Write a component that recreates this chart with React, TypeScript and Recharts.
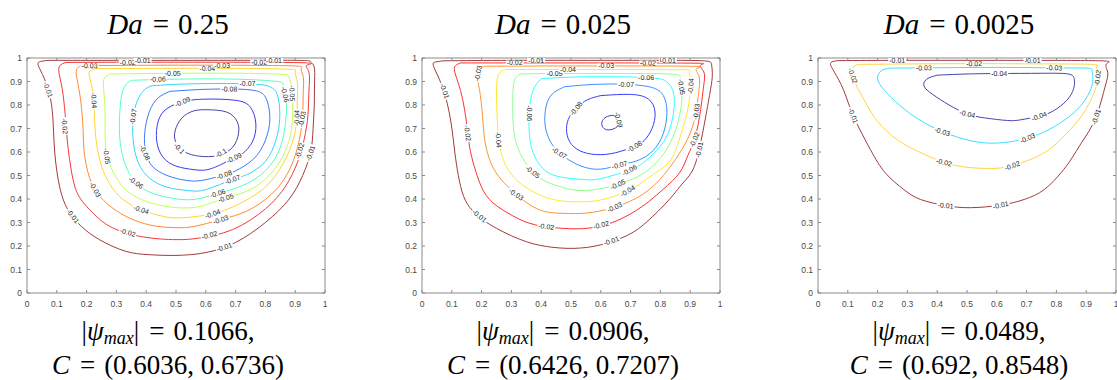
import React from 'react';
import { ComposedChart, Line, Scatter, XAxis, YAxis, ReferenceArea } from 'recharts';

type Pt = [number, number];
type Lab = [string, number, number];

// plot box size in px, same for all three panels
const PW = 298;
const PH = 235;
const AXIS = '#8a8a8a';
const TICK = '#4a4a4a';
const SANS = "'Liberation Sans', Arial, Helvetica, sans-serif";
const SERIF = "'Liberation Serif', 'DejaVu Serif', serif";

const axisTicks = [0, 0.1, 0.2, 0.3, 0.4, 0.5, 0.6, 0.7, 0.8, 0.9, 1];

const daValues = ['0.25', '0.025', '0.0025'];
const psiMax = ['0.1066', '0.0906', '0.0489'];
const centres = ['(0.6036, 0.6736)', '(0.6426, 0.7207)', '(0.692, 0.8548)'];
const panelLeft = [27, 422, 818];

// ---- Da = 0.25 ----
const levels1 = ['-0.01', '-0.02', '-0.03', '-0.04', '-0.05', '-0.06', '-0.07', '-0.08', '-0.09', '-0.1'];
const colors1 = ['#a33a3a', '#f03a3a', '#ff8a30', '#ffd530', '#bfff55', '#55ffc0', '#30d5ff', '#3a7bff', '#3a3af0', '#4545b0'];
const c1_01: Pt[] = [[0.07, 0.99], [0.3, 0.99], [0.6, 0.99], [0.9, 0.99], [0.95, 0.985], [0.963, 0.965], [0.965, 0.9], [0.964, 0.8], [0.96, 0.7], [0.952, 0.6], [0.925, 0.5], [0.88, 0.4], [0.8, 0.3], [0.7, 0.215], [0.6, 0.172], [0.5, 0.16], [0.41, 0.163], [0.33, 0.178], [0.243, 0.227], [0.182, 0.284], [0.137, 0.355], [0.109, 0.455], [0.093, 0.6], [0.087, 0.74], [0.075, 0.85], [0.052, 0.93], [0.037, 0.972], [0.045, 0.985], [0.07, 0.99]];
const c1_02: Pt[] = [[0.13, 0.981], [0.3, 0.982], [0.6, 0.982], [0.92, 0.98], [0.94, 0.97], [0.946, 0.94], [0.946, 0.86], [0.943, 0.76], [0.93, 0.653], [0.907, 0.554], [0.868, 0.455], [0.8, 0.358], [0.69, 0.27], [0.578, 0.234], [0.5, 0.227], [0.388, 0.239], [0.288, 0.277], [0.232, 0.327], [0.19, 0.383], [0.16, 0.455], [0.143, 0.568], [0.135, 0.653], [0.128, 0.76], [0.118, 0.87], [0.107, 0.94], [0.112, 0.97], [0.13, 0.981]];
const c1_03: Pt[] = [[0.18, 0.967], [0.4, 0.969], [0.7, 0.969], [0.9, 0.966], [0.92, 0.955], [0.927, 0.92], [0.927, 0.85], [0.924, 0.74], [0.908, 0.62], [0.875, 0.51], [0.82, 0.42], [0.74, 0.35], [0.65, 0.312], [0.56, 0.283], [0.5, 0.278], [0.43, 0.285], [0.36, 0.31], [0.3, 0.35], [0.245, 0.41], [0.21, 0.49], [0.192, 0.6], [0.188, 0.7], [0.18, 0.82], [0.168, 0.91], [0.166, 0.95], [0.18, 0.967]];
const c1_04: Pt[] = [[0.23, 0.955], [0.45, 0.956], [0.7, 0.956], [0.88, 0.952], [0.9, 0.94], [0.907, 0.9], [0.907, 0.82], [0.904, 0.72], [0.885, 0.62], [0.85, 0.53], [0.79, 0.44], [0.7, 0.372], [0.623, 0.337], [0.52, 0.32], [0.45, 0.328], [0.383, 0.355], [0.32, 0.4], [0.28, 0.46], [0.25, 0.54], [0.232, 0.65], [0.226, 0.76], [0.222, 0.85], [0.21, 0.92], [0.212, 0.945], [0.23, 0.955]];
const c1_05: Pt[] = [[0.28, 0.932], [0.5, 0.935], [0.72, 0.935], [0.86, 0.93], [0.88, 0.915], [0.89, 0.87], [0.892, 0.8], [0.888, 0.7], [0.865, 0.6], [0.82, 0.51], [0.75, 0.44], [0.667, 0.405], [0.6, 0.375], [0.54, 0.362], [0.47, 0.368], [0.4, 0.39], [0.34, 0.43], [0.3, 0.49], [0.272, 0.57], [0.262, 0.67], [0.262, 0.78], [0.257, 0.87], [0.26, 0.915], [0.28, 0.932]];
const c1_06: Pt[] = [[0.35, 0.905], [0.5, 0.91], [0.7, 0.91], [0.84, 0.9], [0.86, 0.88], [0.87, 0.82], [0.868, 0.73], [0.85, 0.62], [0.8, 0.52], [0.72, 0.455], [0.64, 0.424], [0.56, 0.398], [0.48, 0.405], [0.41, 0.43], [0.366, 0.47], [0.335, 0.53], [0.315, 0.62], [0.31, 0.72], [0.315, 0.82], [0.328, 0.88], [0.35, 0.905]];
const c1_07: Pt[] = [[0.42, 0.882], [0.55, 0.89], [0.74, 0.89], [0.82, 0.875], [0.843, 0.83], [0.848, 0.74], [0.835, 0.65], [0.8, 0.56], [0.74, 0.505], [0.69, 0.483], [0.6, 0.44], [0.54, 0.436], [0.47, 0.45], [0.41, 0.49], [0.375, 0.55], [0.358, 0.63], [0.355, 0.72], [0.365, 0.8], [0.39, 0.86], [0.42, 0.882]];
const c1_08: Pt[] = [[0.48, 0.858], [0.58, 0.866], [0.68, 0.868], [0.77, 0.86], [0.805, 0.82], [0.815, 0.74], [0.8, 0.65], [0.76, 0.57], [0.7, 0.52], [0.662, 0.503], [0.6, 0.482], [0.54, 0.478], [0.47, 0.5], [0.42, 0.54], [0.398, 0.6], [0.395, 0.68], [0.41, 0.77], [0.44, 0.83], [0.48, 0.858]];
const c1_09: Pt[] = [[0.53, 0.818], [0.6, 0.825], [0.7, 0.82], [0.75, 0.79], [0.768, 0.72], [0.755, 0.64], [0.72, 0.59], [0.695, 0.575], [0.62, 0.53], [0.56, 0.525], [0.5, 0.54], [0.455, 0.58], [0.435, 0.65], [0.44, 0.73], [0.47, 0.785], [0.53, 0.818]];
const c1_10: Pt[] = [[0.6, 0.78], [0.67, 0.77], [0.705, 0.73], [0.71, 0.68], [0.69, 0.62], [0.64, 0.585], [0.58, 0.582], [0.53, 0.6], [0.5, 0.64], [0.497, 0.69], [0.52, 0.745], [0.56, 0.775], [0.6, 0.78]];
const labels1: Lab[] = [
  ['-0.02', 0.338, 0.982], ['-0.01', 0.388, 0.99], ['-0.03', 0.21, 0.967], ['-0.04', 0.605, 0.956],
  ['-0.03', 0.655, 0.969], ['-0.02', 0.779, 0.982], ['-0.01', 0.829, 0.99], ['-0.05', 0.489, 0.935],
  ['-0.06', 0.439, 0.91], ['-0.08', 0.679, 0.868], ['-0.07', 0.74, 0.89], ['-0.09', 0.522, 0.814],
  ['-0.04', 0.225, 0.82], ['-0.07', 0.356, 0.75], ['-0.01', 0.071, 0.865], ['-0.06', 0.866, 0.845],
  ['-0.05', 0.89, 0.85], ['-0.04', 0.905, 0.745], ['-0.03', 0.923, 0.74], ['-0.02', 0.127, 0.71],
  ['-0.05', 0.268, 0.582], ['-0.08', 0.396, 0.597], ['-0.1', 0.511, 0.615], ['-0.1', 0.651, 0.596],
  ['-0.09', 0.695, 0.575], ['-0.08', 0.662, 0.503], ['-0.07', 0.69, 0.483], ['-0.06', 0.64, 0.424],
  ['-0.05', 0.667, 0.405], ['-0.04', 0.623, 0.337], ['-0.03', 0.65, 0.312], ['-0.02', 0.612, 0.246],
  ['-0.01', 0.662, 0.195], ['-0.01', 0.154, 0.327], ['-0.03', 0.229, 0.44], ['-0.06', 0.366, 0.47],
  ['-0.04', 0.383, 0.355], ['-0.02', 0.338, 0.258], ['-0.02', 0.915, 0.605], ['-0.01', 0.951, 0.595],
];

// ---- Da = 0.025 ----
const levels2 = ['-0.01', '-0.02', '-0.03', '-0.04', '-0.05', '-0.06', '-0.07', '-0.08', '-0.09'];
const colors2 = ['#a33a3a', '#ff3030', '#ff9430', '#ffe830', '#90ff90', '#30ffff', '#3a90ff', '#3a3aff', '#4040b8'];
const c2_01: Pt[] = [[0.07, 0.988], [0.3, 0.99], [0.6, 0.99], [0.85, 0.99], [0.955, 0.987], [0.972, 0.97], [0.974, 0.92], [0.966, 0.85], [0.952, 0.75], [0.93, 0.61], [0.905, 0.515], [0.87, 0.46], [0.83, 0.398], [0.752, 0.3], [0.685, 0.243], [0.6, 0.205], [0.51, 0.19], [0.417, 0.198], [0.327, 0.229], [0.227, 0.292], [0.17, 0.35], [0.14, 0.41], [0.122, 0.5], [0.11, 0.6], [0.098, 0.72], [0.08, 0.83], [0.058, 0.91], [0.038, 0.968], [0.045, 0.983], [0.07, 0.988]];
const c2_02: Pt[] = [[0.13, 0.979], [0.3, 0.979], [0.6, 0.979], [0.91, 0.978], [0.935, 0.97], [0.946, 0.94], [0.945, 0.88], [0.935, 0.78], [0.916, 0.66], [0.892, 0.585], [0.864, 0.511], [0.808, 0.44], [0.741, 0.37], [0.651, 0.306], [0.56, 0.276], [0.473, 0.275], [0.38, 0.29], [0.305, 0.328], [0.238, 0.384], [0.2, 0.45], [0.175, 0.54], [0.16, 0.62], [0.152, 0.7], [0.14, 0.8], [0.125, 0.88], [0.11, 0.94], [0.112, 0.967], [0.13, 0.979]];
const c2_03: Pt[] = [[0.21, 0.965], [0.4, 0.966], [0.618, 0.966], [0.9, 0.965], [0.922, 0.955], [0.93, 0.92], [0.928, 0.85], [0.92, 0.772], [0.9, 0.68], [0.862, 0.59], [0.81, 0.5], [0.741, 0.42], [0.646, 0.365], [0.551, 0.34], [0.473, 0.339], [0.39, 0.356], [0.316, 0.42], [0.275, 0.47], [0.24, 0.53], [0.215, 0.62], [0.205, 0.72], [0.196, 0.84], [0.185, 0.92], [0.19, 0.952], [0.21, 0.965]];
const c2_04: Pt[] = [[0.28, 0.951], [0.478, 0.951], [0.7, 0.951], [0.875, 0.95], [0.897, 0.94], [0.903, 0.9], [0.9, 0.85], [0.89, 0.77], [0.87, 0.68], [0.841, 0.58], [0.8, 0.525], [0.752, 0.483], [0.69, 0.434], [0.6, 0.396], [0.528, 0.388], [0.439, 0.398], [0.361, 0.44], [0.31, 0.49], [0.275, 0.56], [0.258, 0.65], [0.252, 0.75], [0.25, 0.86], [0.257, 0.93], [0.28, 0.951]];
const c2_05: Pt[] = [[0.33, 0.932], [0.445, 0.934], [0.7, 0.934], [0.85, 0.93], [0.866, 0.91], [0.872, 0.86], [0.868, 0.78], [0.85, 0.69], [0.815, 0.6], [0.75, 0.515], [0.657, 0.462], [0.55, 0.436], [0.47, 0.45], [0.41, 0.478], [0.372, 0.515], [0.335, 0.58], [0.312, 0.66], [0.305, 0.75], [0.305, 0.85], [0.312, 0.91], [0.33, 0.932]];
const c2_06: Pt[] = [[0.4, 0.912], [0.55, 0.92], [0.752, 0.917], [0.82, 0.9], [0.842, 0.86], [0.846, 0.79], [0.832, 0.7], [0.8, 0.625], [0.75, 0.562], [0.696, 0.523], [0.6, 0.487], [0.54, 0.483], [0.46, 0.495], [0.405, 0.53], [0.372, 0.6], [0.36, 0.68], [0.36, 0.77], [0.372, 0.86], [0.4, 0.912]];
const c2_07: Pt[] = [[0.48, 0.878], [0.58, 0.888], [0.685, 0.888], [0.77, 0.875], [0.81, 0.84], [0.822, 0.77], [0.81, 0.68], [0.775, 0.605], [0.72, 0.562], [0.663, 0.545], [0.6, 0.527], [0.53, 0.542], [0.461, 0.596], [0.425, 0.66], [0.412, 0.73], [0.42, 0.81], [0.445, 0.855], [0.48, 0.878]];
const c2_08: Pt[] = [[0.6, 0.84], [0.7, 0.845], [0.76, 0.825], [0.782, 0.77], [0.772, 0.7], [0.745, 0.648], [0.713, 0.624], [0.65, 0.597], [0.585, 0.589], [0.53, 0.605], [0.495, 0.645], [0.485, 0.7], [0.495, 0.75], [0.52, 0.79], [0.555, 0.822], [0.6, 0.84]];
const c2_09: Pt[] = [[0.64, 0.756], [0.66, 0.745], [0.664, 0.725], [0.65, 0.703], [0.625, 0.694], [0.607, 0.705], [0.604, 0.728], [0.618, 0.749], [0.64, 0.756]];
const labels2: Lab[] = [
  ['-0.02', 0.311, 0.979], ['-0.01', 0.383, 0.99], ['-0.03', 0.188, 0.935], ['-0.05', 0.445, 0.934],
  ['-0.04', 0.49, 0.951], ['-0.03', 0.618, 0.966], ['-0.02', 0.758, 0.979], ['-0.01', 0.825, 0.99],
  ['-0.06', 0.752, 0.917], ['-0.07', 0.685, 0.888], ['-0.08', 0.517, 0.785], ['-0.09', 0.66, 0.737],
  ['-0.06', 0.361, 0.765], ['-0.04', 0.257, 0.652], ['-0.02', 0.153, 0.68], ['-0.01', 0.076, 0.86],
  ['-0.07', 0.461, 0.596], ['-0.08', 0.713, 0.624], ['-0.07', 0.663, 0.545], ['-0.06', 0.696, 0.523],
  ['-0.05', 0.372, 0.515], ['-0.05', 0.871, 0.877], ['-0.04', 0.902, 0.88], ['-0.03', 0.92, 0.772],
  ['-0.02', 0.914, 0.652], ['-0.01', 0.93, 0.61], ['-0.03', 0.316, 0.42], ['-0.02', 0.417, 0.283],
  ['-0.01', 0.193, 0.328], ['-0.05', 0.657, 0.462], ['-0.04', 0.69, 0.434], ['-0.03', 0.646, 0.365],
  ['-0.02', 0.601, 0.29], ['-0.01', 0.635, 0.222],
];

// ---- Da = 0.0025 ----
const levels3 = ['-0.01', '-0.02', '-0.03', '-0.04'];
const colors3 = ['#a33a3a', '#ffd545', '#3ae0ff', '#4545b0'];
const c3_01: Pt[] = [[0.07, 0.989], [0.266, 0.99], [0.5, 0.99], [0.72, 0.99], [0.95, 0.988], [0.968, 0.975], [0.972, 0.94], [0.966, 0.89], [0.95, 0.815], [0.933, 0.75], [0.91, 0.69], [0.882, 0.635], [0.85, 0.57], [0.815, 0.511], [0.759, 0.44], [0.692, 0.398], [0.613, 0.374], [0.512, 0.363], [0.428, 0.372], [0.344, 0.398], [0.288, 0.44], [0.226, 0.511], [0.176, 0.61], [0.12, 0.75], [0.086, 0.863], [0.055, 0.94], [0.042, 0.973], [0.05, 0.985], [0.07, 0.989]];
const c3_02: Pt[] = [[0.14, 0.973], [0.35, 0.975], [0.524, 0.976], [0.75, 0.975], [0.918, 0.973], [0.935, 0.962], [0.94, 0.93], [0.934, 0.88], [0.915, 0.82], [0.88, 0.745], [0.82, 0.66], [0.75, 0.59], [0.652, 0.542], [0.58, 0.53], [0.5, 0.535], [0.423, 0.556], [0.34, 0.6], [0.266, 0.652], [0.2, 0.73], [0.16, 0.81], [0.13, 0.88], [0.116, 0.93], [0.12, 0.963], [0.14, 0.973]];
const c3_03: Pt[] = [[0.24, 0.957], [0.355, 0.958], [0.6, 0.96], [0.793, 0.958], [0.9, 0.957], [0.92, 0.945], [0.922, 0.9], [0.905, 0.84], [0.865, 0.775], [0.793, 0.708], [0.703, 0.659], [0.602, 0.638], [0.512, 0.648], [0.417, 0.687], [0.33, 0.745], [0.26, 0.815], [0.215, 0.875], [0.2, 0.915], [0.212, 0.945], [0.24, 0.957]];
const c3_04: Pt[] = [[0.4, 0.927], [0.5, 0.932], [0.608, 0.934], [0.75, 0.935], [0.84, 0.932], [0.86, 0.91], [0.858, 0.87], [0.835, 0.82], [0.79, 0.775], [0.742, 0.752], [0.68, 0.737], [0.636, 0.734], [0.56, 0.745], [0.501, 0.762], [0.44, 0.8], [0.385, 0.845], [0.356, 0.88], [0.365, 0.91], [0.4, 0.927]];
const labels3: Lab[] = [
  ['-0.01', 0.266, 0.99], ['-0.02', 0.524, 0.976], ['-0.01', 0.72, 0.99], ['-0.03', 0.355, 0.958],
  ['-0.04', 0.608, 0.934], ['-0.03', 0.793, 0.958], ['-0.02', 0.117, 0.925], ['-0.02', 0.938, 0.915],
  ['-0.01', 0.118, 0.755], ['-0.01', 0.933, 0.75], ['-0.04', 0.501, 0.762], ['-0.04', 0.742, 0.752],
  ['-0.03', 0.417, 0.687], ['-0.03', 0.703, 0.659], ['-0.02', 0.423, 0.556], ['-0.02', 0.652, 0.542],
  ['-0.01', 0.428, 0.372], ['-0.01', 0.613, 0.374],
];

const panels = [
  { levels: levels1, colors: colors1, lines: [c1_01, c1_02, c1_03, c1_04, c1_05, c1_06, c1_07, c1_08, c1_09, c1_10], labels: labels1 },
  { levels: levels2, colors: colors2, lines: [c2_01, c2_02, c2_03, c2_04, c2_05, c2_06, c2_07, c2_08, c2_09], labels: labels2 },
  { levels: levels3, colors: colors3, lines: [c3_01, c3_02, c3_03, c3_04], labels: labels3 },
];

// label orientation follows the nearest segment of its own contour (in pixel space)
function tangentAngle(line: Pt[], x: number, y: number) {
  let best = 0;
  let bd = Infinity;
  const px = x * PW;
  const py = y * PH;
  for (let i = 0; i < line.length - 1; i++) {
    const ax = line[i][0] * PW, ay = line[i][1] * PH;
    const vx = line[i + 1][0] * PW - ax, vy = line[i + 1][1] * PH - ay;
    const len2 = vx * vx + vy * vy || 1;
    const t = Math.max(0, Math.min(1, ((px - ax) * vx + (py - ay) * vy) / len2));
    const dx = ax + t * vx - px, dy = ay + t * vy - py;
    const d = dx * dx + dy * dy;
    if (d < bd) {
      bd = d;
      best = i;
    }
  }
  const a = line[best], b = line[best + 1];
  let ang = (Math.atan2(-(b[1] - a[1]) * PH, (b[0] - a[0]) * PW) * 180) / Math.PI;
  if (ang > 90) ang -= 180;
  if (ang <= -90) ang += 180;
  return ang;
}

const XTick = (props: any) => {
  const { x, y, payload } = props;
  return (
    <g>
      <line x1={x} x2={x} y1={y} y2={y - 3} stroke={AXIS} />
      <line x1={x} x2={x} y1={y - PH} y2={y - PH + 3} stroke={AXIS} />
      <text x={x} y={y + 14} textAnchor="middle" fontSize={8.5} fill={TICK} fontFamily={SANS}>
        {String(payload.value)}
      </text>
    </g>
  );
};

const YTick = (props: any) => {
  const { x, y, payload } = props;
  return (
    <g>
      <line x1={x} x2={x + 3} y1={y} y2={y} stroke={AXIS} />
      <line x1={x + PW} x2={x + PW - 3} y1={y} y2={y} stroke={AXIS} />
      <text x={x - 5} y={y + 3} textAnchor="end" fontSize={8.5} fill={TICK} fontFamily={SANS}>
        {String(payload.value)}
      </text>
    </g>
  );
};

const ContourLabel = (props: any) => {
  const { cx, cy, payload } = props;
  if (cx == null || cy == null || !payload) return null;
  const w = payload.t.length * 3.4 + 1;
  return (
    <g transform={`translate(${cx},${cy}) rotate(${payload.a})`}>
      <rect x={-w / 2} y={-2.4} width={w} height={4.8} fill="#fff" />
      <text x={0} y={2.5} textAnchor="middle" fontSize={7} fill="#222" fontFamily={SANS}>
        {payload.t}
      </text>
    </g>
  );
};

function Panel({ index }: { index: number }) {
  const p = panels[index];
  const labelData = p.labels.map(([t, x, y]) => ({
    x,
    y,
    t,
    a: tangentAngle(p.lines[p.levels.indexOf(t)], x, y),
  }));
  return (
    <div style={{ position: 'absolute', left: panelLeft[index] - 30, top: 48 }}>
      <ComposedChart width={348} height={270} margin={{ top: 10, right: 20, bottom: 0, left: 0 }}>
        <XAxis
          type="number"
          dataKey="x"
          domain={[0, 1]}
          ticks={axisTicks}
          interval={0}
          tickSize={0}
          tickMargin={0}
          tickLine={false}
          axisLine={false}
          height={25}
          allowDataOverflow
          tick={(t: any) => <XTick {...t} />}
        />
        <YAxis
          type="number"
          dataKey="y"
          domain={[0, 1]}
          ticks={axisTicks}
          interval={0}
          tickSize={0}
          tickMargin={0}
          tickLine={false}
          axisLine={false}
          width={30}
          allowDataOverflow
          tick={(t: any) => <YTick {...t} />}
        />
        {p.lines.map((pts, i) => (
          <Line
            key={i}
            data={pts.map(([x, y]) => ({ x, y }))}
            dataKey="y"
            type="natural"
            stroke={p.colors[i]}
            strokeWidth={1}
            dot={false}
            activeDot={false}
            isAnimationActive={false}
          />
        ))}
        <Scatter data={labelData} shape={(s: any) => <ContourLabel {...s} />} isAnimationActive={false} />
        <ReferenceArea x1={0} x2={1} y1={0} y2={1} fill="none" stroke={AXIS} strokeWidth={1} ifOverflow="visible" />
      </ComposedChart>
    </div>
  );
}

export default function App() {
  return (
    <div style={{ position: 'absolute', left: 0, top: 0, width: 1117, height: 380, background: '#fff', overflow: 'hidden' }}>
      {[0, 1, 2].map((i) => (
        <Panel key={i} index={i} />
      ))}
      <svg width={1117} height={380} style={{ position: 'absolute', left: 0, top: 0, pointerEvents: 'none' }}>
        {[0, 1, 2].map((i) => {
          const cx = panelLeft[i] + PW / 2 - 8;
          return (
            <g key={i} fill="#000" fontFamily={SERIF}>
              <text x={cx} y={34} textAnchor="middle" fontSize={29}>
                <tspan fontStyle="italic">Da</tspan>
                <tspan dx={10}>=</tspan>
                <tspan dx={9}>{daValues[i]}</tspan>
              </text>
              <text x={cx} y={340} textAnchor="middle" fontSize={27}>
                <tspan>|</tspan>
                <tspan fontStyle="italic">ψ</tspan>
                <tspan fontStyle="italic" fontSize={18} dy={4}>max</tspan>
                <tspan dy={-4}>|</tspan>
                <tspan dx={10}>=</tspan>
                <tspan dx={9}>{psiMax[i]},</tspan>
              </text>
              <text x={cx} y={374} textAnchor="middle" fontSize={27}>
                <tspan fontStyle="italic">C</tspan>
                <tspan dx={10}>=</tspan>
                <tspan dx={9}>{centres[i]}</tspan>
              </text>
            </g>
          );
        })}
      </svg>
    </div>
  );
}
